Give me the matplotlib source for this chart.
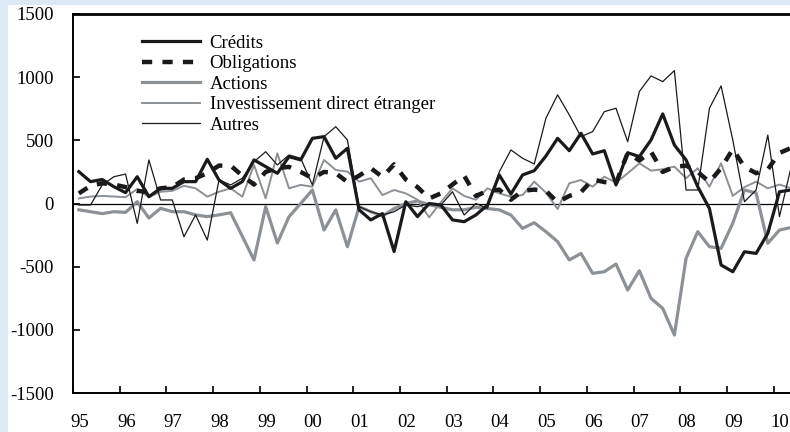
import matplotlib
matplotlib.use("Agg")
import matplotlib.pyplot as plt
import numpy as np

# quarterly flows, 1995Q1 .. 2010Q2
credits = [252, 173, 190, 133, 86, 212, 54, 120, 120, 173, 173, 350, 186, 120, 173, 345,
           292, 239, 371, 345, 516, 529, 358, 437, -50, -130, -80, -380, 14, -104, 0, -12,
           -130, -144, -91, -12, 226, 75, 226, 260, 376, 516, 418, 556, 392, 418, 147, 402,
           371, 503, 709, 463, 345, 133, -40, -487, -540, -382, -395, -236, 93, 107]
obligations = [80, 140, 160, 150, 130, 100, 90, 120, 130, 190, 200, 240, 300, 300, 220, 150,
               250, 280, 290, 250, 200, 250, 240, 170, 220, 280, 210, 310, 190, 130, 40, 80,
               150, 220, 60, 100, 110, 30, 100, 110, 100, 10, 60, 90, 190, 170, 160, 400,
               340, 410, 250, 290, 300, 250, 170, 280, 430, 290, 240, 270, 400, 440]
actions = [-50, -65, -80, -65, -70, 14, -115, -38, -65, -65, -90, -104, -90, -73, -260, -447,
           -25, -313, -104, 0, 107, -210, -51, -342, -25, -65, -100, -40, 0, 20, -10, -30,
           -50, -50, -30, -40, -50, -91, -197, -152, -223, -302, -447, -395, -553, -540, -479, -685,
           -532, -751, -830, -1041, -434, -223, -342, -355, -156, 107, 83, -315, -210, -190]
ide = [40, 55, 60, 55, 50, 115, 50, 93, 100, 140, 120, 54, 93, 120, 54, 305,
       41, 397, 120, 147, 133, 345, 265, 252, 173, 200, 67, 107, 80, 30, -110, 10,
       120, 60, 30, 120, 80, 54, 67, 173, 86, -44, 160, 186, 133, 212, 165, 239,
       318, 260, 271, 292, 200, 279, 133, 318, 60, 130, 173, 120, 150, 120]
autres = [-12, -12, 147, 212, 233, -157, 345, 28, 28, -263, -91, -290, 186, 147, 200, 331,
          410, 305, 384, 358, 147, 529, 608, 503, -25, -65, -91, -65, -12, -25, 0, -12,
          93, -91, 0, -38, 250, 424, 358, 313, 675, 860, 701, 529, 569, 727, 754, 489,
          886, 1010, 965, 1052, 107, 107, 754, 931, 503, 14, 107, 542, -104, 290]

years = list(range(1995, 2011))
year_labels = ["95", "96", "97", "98", "99", "00", "01", "02", "03", "04",
               "05", "06", "07", "08", "09", "10"]

x = 1995 + (np.arange(len(credits)) + 0.5) / 4

plt.rcParams['font.family'] = ['Liberation Serif', 'DejaVu Serif']

fig = plt.figure(figsize=(7.9, 4.32), dpi=100, facecolor='white')
# light blue frame strips (top and left)
fig.patches.append(plt.Rectangle((0, 1 - 5 / 432), 1, 5 / 432, transform=fig.transFigure,
                                 facecolor='#dde8f5', edgecolor='none'))
fig.patches.append(plt.Rectangle((0, 0), 8 / 790, 1, transform=fig.transFigure,
                                 facecolor='#dde8f5', edgecolor='none'))
ax = fig.add_axes([73 / 790, 39 / 432, 724 / 790, 379 / 432])

grey = '#8b9197'
ax.axhline(0, color='black', lw=0.9, zorder=1)
ax.plot(x, credits, color='#1a1a1a', lw=2.3, label='Crédits', zorder=5)
ax.plot(x, obligations, color='#1a1a1a', lw=3.2, dashes=(2.3, 2.3), label='Obligations', zorder=4)
ax.plot(x, actions, color=grey, lw=2.3, label='Actions', zorder=3)
ax.plot(x, ide, color=grey, lw=1.4, label='Investissement direct étranger', zorder=3)
ax.plot(x, autres, color='#1a1a1a', lw=0.9, label='Autres', zorder=4)

ax.set_xlim(1995, 2010.5)
ax.set_ylim(-1500, 1500)
ax.set_yticks([-1500, -1000, -500, 0, 500, 1000, 1500])
ax.set_yticklabels(['-1500', '-1000', '-500', '0', '500', '1000', '1500'])
ax.set_xticks(years)
ax.set_xticklabels([])
ax.set_xticks([y + 0.14 for y in years], minor=True)
ax.set_xticklabels(year_labels, minor=True)
ax.tick_params(axis='x', which='major', direction='in', length=5, width=1.2)
ax.tick_params(axis='x', which='minor', length=0, pad=15, labelsize=13.5)
ax.tick_params(axis='y', direction='in', length=5, width=1.2, pad=14, labelsize=13.5)

ax.spines['top'].set_linewidth(2)
ax.spines['left'].set_linewidth(1.4)
ax.spines['bottom'].set_linewidth(1.4)
ax.spines['right'].set_visible(False)

ax.legend(loc='upper left', bbox_to_anchor=(0.085, 0.965), frameon=False, fontsize=13.5,
          handlelength=3.1, handletextpad=0.5, labelspacing=0.18, borderaxespad=0)

fig.savefig('out.png', dpi=100)
